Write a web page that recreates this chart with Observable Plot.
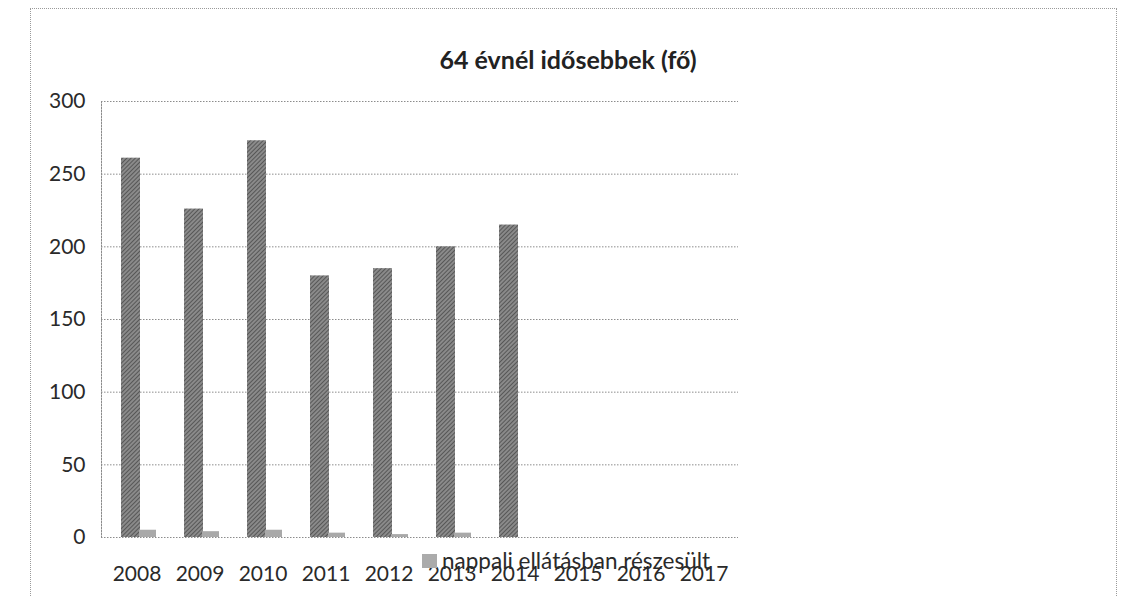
<!DOCTYPE html>
<html>
<head>
<meta charset="utf-8">
<script src="https://cdn.jsdelivr.net/npm/d3@7"></script>
<script src="https://cdn.jsdelivr.net/npm/@observablehq/plot@0.6"></script>
<style>
  body { margin: 0; background: #fff; }
  #wrap { position: relative; width: 1122px; height: 596px; overflow: hidden; font-family: Lato, "Liberation Sans", sans-serif; }
  #border { position: absolute; left: 30px; top: 8px; width: 1087px; height: 700px; border: 1px dotted #9a9a9a; box-sizing: border-box; }
  #title { position: absolute; left: 368px; width: 400px; top: 44px; text-align: center; font-weight: bold; font-size: 25px; color: #222; }
  #chart { position: absolute; left: 0; top: 0; }
  #legend { position: absolute; left: 422px; top: 547px; font-size: 22.5px; color: #2a2a2a; display: flex; align-items: center; z-index: 2; }
  #legend .sw { width: 15px; height: 14px; background: #ababab; margin-right: 5px; }
</style>
</head>
<body>
<div id="wrap">
  <div id="border"></div>
  <div id="title"></div>
  <div id="chart"></div>
  <div id="legend"><span class="sw"></span><span id="legtext"></span></div>
</div>
<script>
const titleText = "64 évnél idősebbek (fő)";
const years = ["2008","2009","2010","2011","2012","2013","2014","2015","2016","2017"];
const seriesNames = ["64 évnél idősebbek", "nappali ellátásban részesült"];
const totalValues = [261, 226, 273, 180, 185, 200, 215, null, null, null];
const dayCareValues = [5, 4, 5, 3, 2, 3, null, null, null, null];
const yTicks = [0, 50, 100, 150, 200, 250, 300];

document.getElementById("title").textContent = titleText;
document.getElementById("legtext").textContent = seriesNames[1];

const totalData = years.map((y, i) => ({year: y, value: totalValues[i]})).filter(d => d.value != null);
const careData = years.map((y, i) => ({year: y, value: dayCareValues[i]})).filter(d => d.value != null);

const chart = Plot.plot({
  width: 1122,
  height: 596,
  marginLeft: 101,
  marginRight: 384,
  marginTop: 101,
  marginBottom: 59,
  style: {fontFamily: "Lato, 'Liberation Sans', sans-serif", background: "transparent", color: "#2a2a2a"},
  x: {type: "band", domain: years, padding: 0, label: null},
  y: {domain: [0, 300], label: null},
  marks: [
    Plot.ruleY(yTicks, {stroke: "#8c8c8c", strokeDasharray: "1.5,1.5", strokeWidth: 1}),
    Plot.frame({anchor: "left", stroke: "#8c8c8c", strokeDasharray: "1.5,1.5"}),
    Plot.barY(totalData, {x: "year", y: "value", fill: "url(#hatch)", insetLeft: 16, insetRight: 28}),
    Plot.barY(careData, {x: "year", y: "value", fill: "#a9a9a9", insetLeft: 34, insetRight: 12}),
    Plot.axisY({ticks: yTicks, tickSize: 0, tickPadding: 16, fontSize: 21}),
    Plot.axisX({tickSize: 0, tickPadding: 29, fontSize: 21})
  ]
});

const ns = "http://www.w3.org/2000/svg";
const defs = document.createElementNS(ns, "defs");
defs.innerHTML = `<pattern id="hatch" width="3" height="3" patternUnits="userSpaceOnUse" patternTransform="rotate(45)">
  <rect width="3" height="3" fill="#8a8a8a"></rect>
  <line x1="0" y1="0" x2="0" y2="3" stroke="#4a4a4a" stroke-width="1.6"></line>
</pattern>`;
chart.insertBefore(defs, chart.firstChild);
document.getElementById("chart").appendChild(chart);
</script>
</body>
</html>
